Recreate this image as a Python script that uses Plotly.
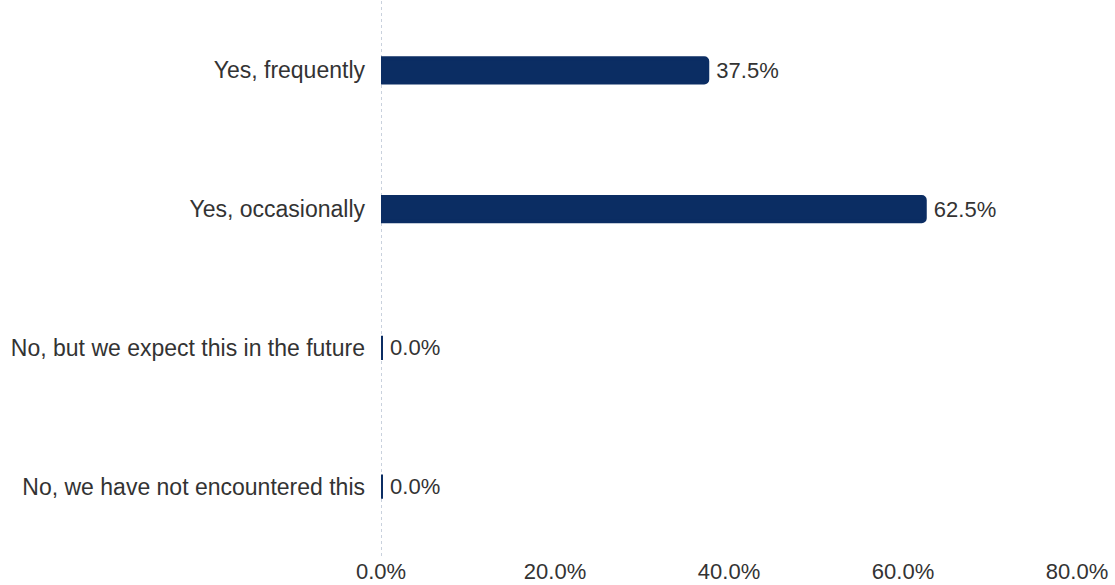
import plotly.graph_objects as go

# Survey responses and shares (percent)
categories = [
    "Yes, frequently",
    "Yes, occasionally",
    "No, but we expect this in the future",
    "No, we have not encountered this",
]
shares = [37.5, 62.5, 0.0, 0.0]
x_ticks = [0, 20, 40, 60, 80]
x_tick_labels = ["0.0%", "20.0%", "40.0%", "60.0%", "80.0%"]

navy = "#0b2d63"
text_color = "#333333"
font_family = "Liberation Sans, Arial, sans-serif"

fig = go.Figure(
    go.Bar(
        x=shares,
        y=categories,
        orientation="h",
        width=0.175,
        marker=dict(color=navy, line=dict(color=navy, width=4), cornerradius=3),
        text=[f"\u00a0{v:.1f}%" for v in shares],
        textposition="outside",
        constraintext="none",
        textfont=dict(size=22, color=text_color, family=font_family),
        cliponaxis=False,
        hoverinfo="skip",
    )
)

# Dotted baseline at zero
fig.add_shape(
    type="line", xref="x", yref="paper", x0=0, x1=0, y0=0, y1=1.02,
    line=dict(color="#c9d1dd", width=2, dash="dot"), layer="below",
)

fig.update_layout(
    width=1115,
    height=585,
    margin=dict(l=381, r=38, t=1, b=26),
    plot_bgcolor="white",
    paper_bgcolor="white",
    showlegend=False,
    font=dict(family=font_family, size=22, color=text_color),
    xaxis=dict(
        range=[0, 80],
        tickvals=x_ticks,
        ticktext=x_tick_labels,
        showgrid=False,
        zeroline=False,
        showline=False,
        ticks="",
        tickfont=dict(size=22, color=text_color),
        fixedrange=True,
    ),
    yaxis=dict(
        autorange="reversed",
        showgrid=False,
        zeroline=False,
        showline=False,
        ticks="",
        ticklabelstandoff=15,
        tickfont=dict(size=23, color=text_color),
        fixedrange=True,
    ),
)

fig.write_html("out.html", config={"displayModeBar": False})
